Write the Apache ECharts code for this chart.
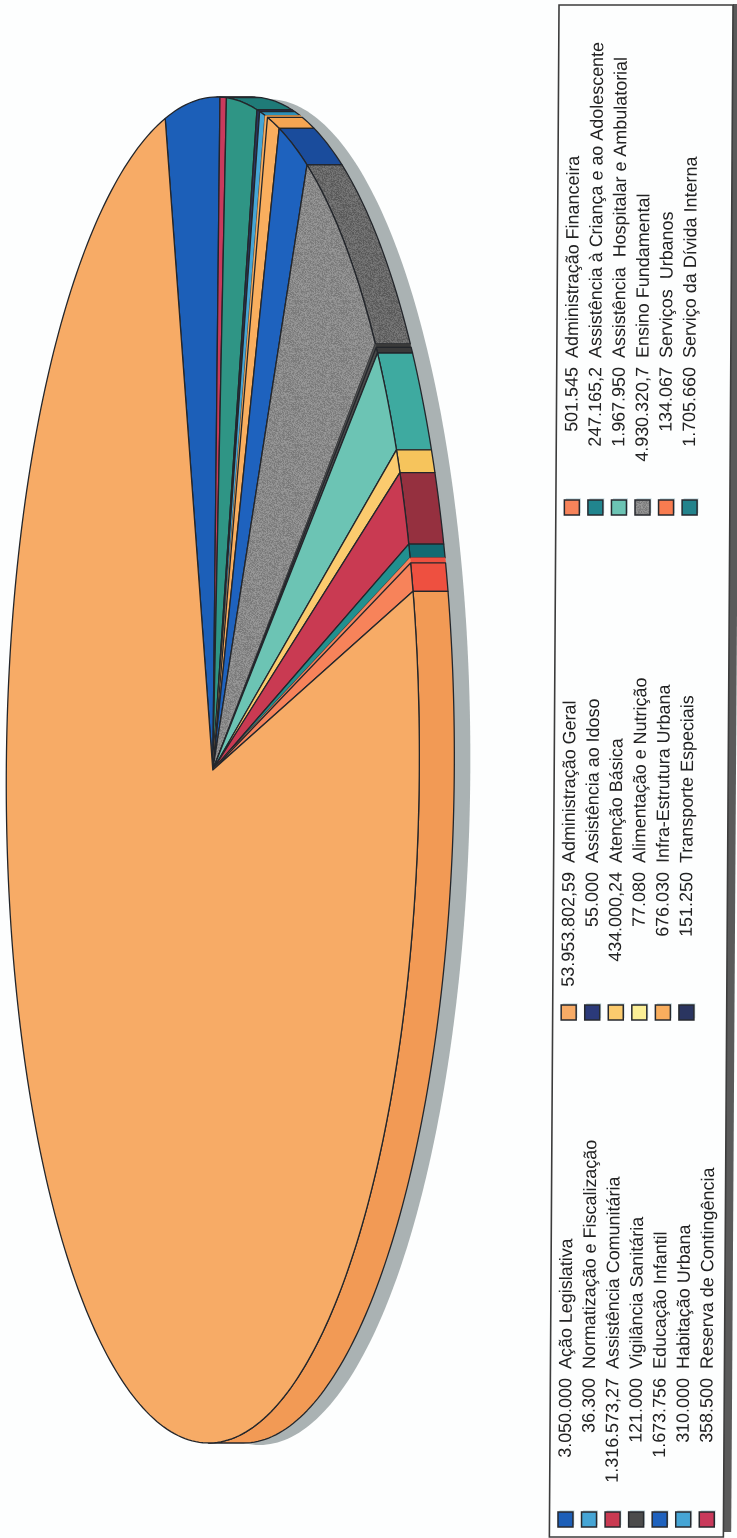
<!DOCTYPE html>
<html>
<head>
<meta charset="utf-8">
<style>html,body{margin:0;padding:0;background:#fdfefe}#c{width:737px;height:1538px}</style>
<script src="https://cdn.jsdelivr.net/npm/echarts@6/dist/echarts.min.js"></script>
</head>
<body>
<div id="c"></div>
<script>
// Slices in the order they run round the pie, starting at the big blue one.
const names = ['Ação Legislativa','Reserva de Contingência','Serviço da Dívida Interna','Transporte Especiais','Habitação Urbana','Serviços  Urbanos','Infra-Estrutura Urbana','Educação Infantil','Ensino Fundamental','Alimentação e Nutrição','Vigilância Sanitária','Assistência  Hospitalar e Ambulatorial','Atenção Básica','Assistência Comunitária','Assistência à Criança e ao Adolescente','Assistência ao Idoso','Normatização e Fiscalização','Administração Financeira','Administração Geral'];
const values = [3050000,358500,1705660,151250,310000,134067,676030,1673756,4930320.7,77080,121000,1967950,434000.24,1316573.27,247165.2,55000,36300,501545,53953802.59];
const valueLabels = ['3.050.000','358.500','1.705.660','151.250','310.000','134.067','676.030','1.673.756','4.930.320,7','77.080','121.000','1.967.950','434.000,24','1.316.573,27','247.165,2','55.000','36.300','501.545','53.953.802,59'];
// Colours of the slices as they appear in the pie
const topColors = ['#1C5FB8','#C93A5C','#2F9585','#2A3560','#45A5D5','#F9AE5E','#F9AE5E','#1E62BE','#8B8B8B','#4C4C4C','#4C4C4C','#6CC4B4','#FBCB6E','#C93A52','#21908F','#F7835A','#F7835A','#F7835A','#F7AB66'];
const sideColors = ['#1A4C9C','#A82E4A','#1F7B78','#232C50','#2D8FB8','#F5A552','#F5A552','#1A4C9C','#6A6A6A','#3A3A3A','#3A3A3A','#3EAAA0','#F6C45C','#95303F','#136A72','#EE5040','#EE5040','#EE5040','#F29A55'];
// Colours of the legend swatches
const swatchColors = ['#1C5FB8','#C93A5C','#23838C','#2A3560','#45A5D5','#F87C50','#F9AE5E','#1E62BE','#8B8B8B','#FBEF96','#4C4C4C','#6CC4B4','#FBCB6E','#C93A52','#21858E','#2B3A7A','#45A5D5','#F7835A','#F7AB66'];
// Slices too thin to show an outline of their own in the pie
const noOutline = [5, 9, 15, 16];
// Legend: three blocks of columns, each listing slice indexes.
const legendBlocks = [[0,16,13,10,7,4,1],[18,15,12,9,6,3],[17,14,11,8,5,2]];

const START_DEG = -14.5, CX = 212.8, CY = 770, RX = 206.5, RY = 673, DEPTH = 35, TILT = 0.0063;
const total = values.reduce((a, b) => a + b, 0);
const tilt = (x, y) => [x - (y - CY) * TILT, y];
const rim = (deg, dx) => {
  const t = deg * Math.PI / 180;
  return tilt(CX + RX * Math.sin(t) + (dx || 0), CY - RY * Math.cos(t));
};
const arc = (a, b, dx) => {
  const n = Math.max(1, Math.ceil(Math.abs(b - a)));
  const out = [];
  for (let i = 0; i <= n; i++) out.push(rim(a + (b - a) * i / n, dx));
  return out;
};
const bounds = (i) => {
  let s = 0;
  for (let k = 0; k < i; k++) s += values[k];
  return [START_DEG + s / total * 360, START_DEG + (s + values[i]) / total * 360];
};
// Speckled fill of the grey slice
function speckle(base, amp) {
  const cv = document.createElement('canvas');
  cv.width = cv.height = 48;
  const g = cv.getContext('2d');
  for (let y = 0; y < 48; y++) for (let x = 0; x < 48; x++) {
    const h = Math.sin(x * 12.9898 + y * 78.233) * 43758.5453;
    const v = Math.round(base + ((h - Math.floor(h)) - 0.5) * amp);
    g.fillStyle = 'rgb(' + v + ',' + v + ',' + v + ')';
    g.fillRect(x, y, 1, 1);
  }
  return { image: cv, repeat: 'repeat' };
}
const GREY = 8;
const fillTop = (i) => i === GREY ? speckle(136, 36) : topColors[i];
const fillSide = (i) => i === GREY ? speckle(104, 36) : sideColors[i];
const LINE = '#23262b';
const edge = (i, c) => noOutline.includes(i) ? { stroke: typeof c === 'string' ? c : null, lineWidth: 0.5 } : { stroke: LINE, lineWidth: 1.3 };
const none = { coordinateSystem: 'none', silent: true, animation: false };

const legendItems = [];
legendBlocks.forEach((b, bi) => b.forEach((s, ci) => legendItems.push([s, bi, ci])));
const SWATCH_Y = [1519.5, 1012.5, 507.5], VALUE_END = [1378, 872, 367], LABEL_START = [1369, 863, 358];
const COL0 = 570.2, COL_STEP = 23.55;
const FONT = { fontSize: 17.95, fontFamily: 'Liberation Sans', fill: '#222' };

const option = {
  backgroundColor: '#fdfefe',
  series: [
    { // drop shadow of the pie
      type: 'custom', ...none, data: [[total]], z: 1,
      renderItem: () => ({
        type: 'polygon',
        shape: { points: arc(0, 360).map(p => [p[0] + DEPTH + 16, p[1] + 2]) },
        style: { fill: '#AAB2B3' }
      })
    },
    { // rim of the pie
      type: 'custom', ...none, data: values.map(v => [v]), z: 2,
      renderItem: (p) => {
        const i = p.dataIndex;
        const [a, b] = bounds(i);
        const s = Math.max(a, 0), e = Math.min(b, 180);
        if (e <= s) return null;
        return {
          type: 'polygon',
          shape: { points: arc(s, e).concat(arc(e, s, DEPTH)) },
          style: { fill: fillSide(i), lineJoin: 'round', ...edge(i, sideColors[i]) }
        };
      }
    },
    { // top face of the pie
      type: 'custom', ...none, data: values.map(v => [v]), z: 3,
      renderItem: (p) => {
        const i = p.dataIndex;
        const [a, b] = bounds(i);
        return {
          type: 'polygon',
          shape: { points: [tilt(CX, CY)].concat(arc(a, b)) },
          style: { fill: fillTop(i), lineJoin: 'round', ...edge(i, topColors[i]) }
        };
      }
    },
    { // legend frame
      type: 'custom', ...none, data: [[0]], z: 4,
      renderItem: () => ({
        type: 'group',
        children: [
          { type: 'polygon', shape: { points: [tilt(728.2, 4), tilt(736, 4), tilt(736, 1532), tilt(728.2, 1532)] }, style: { fill: '#5A5A5A' } },
          { type: 'polygon', shape: { points: [tilt(554.2, 5), tilt(728.2, 5), tilt(728.2, 1537), tilt(554.2, 1537)] }, style: { fill: '#FDFEFE', stroke: '#3C3C3C', lineWidth: 1.6 } }
        ]
      })
    },
    { // legend entries
      type: 'custom', ...none, data: legendItems, z: 5,
      renderItem: (p, api) => {
        const s = api.value(0), bi = api.value(1), ci = api.value(2);
        const col = COL0 + COL_STEP * ci;
        const rot = Math.PI / 2 - TILT;
        const [sx, sy] = tilt(col, SWATCH_Y[bi]);
        const [vx, vy] = tilt(col, VALUE_END[bi]);
        const [lx, ly] = tilt(col, LABEL_START[bi]);
        return {
          type: 'group',
          children: [
            { type: 'rect', shape: { x: sx - 6, y: sy - 9.5, width: 15, height: 15 }, style: { fill: '#D6E6EA' } },
            { type: 'rect', shape: { x: sx - 7.5, y: sy - 7.5, width: 15, height: 15 }, style: { fill: s === GREY ? fillTop(s) : swatchColors[s], stroke: '#26292E', lineWidth: 1.5 } },
            { type: 'text', x: vx, y: vy, rotation: rot, style: { text: valueLabels[s], align: 'right', verticalAlign: 'middle', ...FONT } },
            { type: 'text', x: lx, y: ly, rotation: rot, style: { text: names[s], align: 'left', verticalAlign: 'middle', ...FONT } }
          ]
        };
      }
    }
  ]
};
echarts.init(document.getElementById('c'), null, { renderer: 'canvas' }).setOption(option);
</script>
</body>
</html>
